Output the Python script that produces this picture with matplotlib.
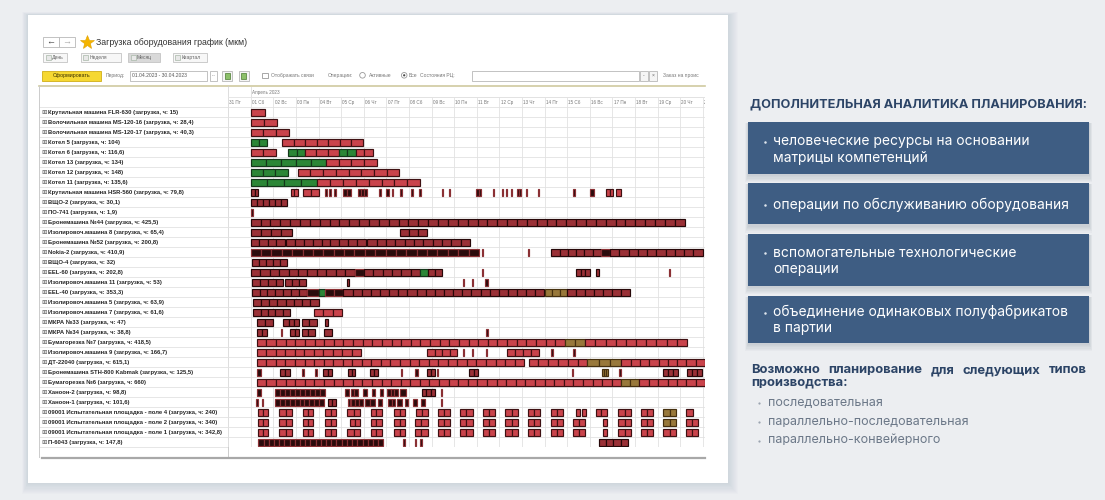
import matplotlib
matplotlib.use("Agg")
import matplotlib.pyplot as plt
from matplotlib.patches import Rectangle, Circle
import numpy as np

# ---- data -------------------------------------------------------------
machines = [
    "Крутильная машина FLR-630", "Волочильная машина MS-120-16", "Волочильная машина MS-120-17",
    "Котел 5", "Котел 6", "Котел 13", "Котел 12", "Котел 11",
    "Крутильная машина HSR-560", "ВЩО-2", "ПО-741", "Бронемашина №44",
    "Изолировоч.машина 8", "Бронемашина №52", "Nokia-2", "ВЩО-4", "EEL-60",
    "Изолировоч.машина 11", "EEL-40", "Изолировоч.машина 5", "Изолировоч.машина 7",
    "МКРА №33", "МКРА №34", "Бумагорезка №7", "Изолировоч.машина 9", "ДТ-22040",
    "Бронемашина STH-800 Kabmak", "Бумагорезка №6", "Ханоон-2", "Ханоон-1",
    "09001 Испытательная площадка - поле 4", "09001 Испытательная площадка - поле 2",
    "09001 Испытательная площадка - поле 1", "П-6043",
]
hours = ["15", "28,4", "40,3", "104", "116,6", "134", "148", "135,6", "79,8", "30,1",
         "1,9", "425,5", "65,4", "200,8", "410,9", "32", "202,8", "53", "353,3", "63,9",
         "61,6", "47", "38,8", "418,5", "166,7", "615,1", "125,5", "660", "98,8", "101,6",
         "240", "340", "342,8", "147,8"]

month_label = "Апрель 2023"
day_labels = ["31 Пт", "01 Сб", "02 Вс", "03 Пн", "04 Вт", "05 Ср", "06 Чт", "07 Пт",
              "08 Сб", "09 Вс", "10 Пн", "11 Вт", "12 Ср", "13 Чт", "14 Пт", "15 Сб",
              "16 Вс", "17 Пн", "18 Вт", "19 Ср", "20 Чт", "21 Пт"]

# operations per machine: (start day, end day, kind[, cells]) ; day 0 = 01.04
schedule = [
    [(0, 0.62, 'r')],
    [(0, 1.18, 'r', 2)],
    [(0, 1.68, 'r', 3)],
    [(0, 0.74, 'g', 2), (1.39, 4.97, 'r', 7)],
    [(0, 1.1, 'r', 2), (1.66, 2.4, 'g', 2), (2.4, 3.9, 'r', 3), (3.9, 4.64, 'g', 2), (4.64, 5.4, 'r', 2)],
    [(0, 3.33, 'g', 5), (3.33, 5.58, 'r', 4)],
    [(0, 1.64, 'g', 3), (2.08, 6.58, 'r', 8)],
    [(0, 2.95, 'g', 4), (2.95, 7.5, 'r', 8)],
    [(0, 0.34, 'm', 2), (1.78, 2.08, 'r', 2), (2.33, 3.0, 'r', 2), (3.29, 3.37, 'k'), (3.48, 3.56, 'k'),
     (3.68, 3.76, 'k'), (4.1, 4.42, 'k', 2), (4.73, 5.13, 'k', 3), (5.68, 5.76, 'k'), (6.0, 6.12, 'k'),
     (6.24, 6.3, 'k'), (6.62, 6.68, 'k'), (7.1, 7.2, 'k'), (7.46, 7.52, 'k'), (8.47, 8.53, 'k'),
     (8.77, 8.83, 'k'), (9.97, 10.2, 'k', 2), (10.7, 10.76, 'k'), (11.1, 11.16, 'k'), (11.3, 11.36, 'k'),
     (11.52, 11.58, 'k'), (11.77, 11.95, 'k', 2), (12.17, 12.23, 'k'), (12.7, 12.76, 'k'),
     (14.28, 14.34, 'k'), (15.0, 15.2, 'k'), (15.72, 16.05, 'r', 2), (16.17, 16.4, 'r')],
    [(0, 1.59, 'm', 6)],
    [(0, 0.08, 'k')],
    [(0, 19.2, 'm', 44)],
    [(0, 1.81, 'm', 4), (6.6, 7.8, 'm', 3)],
    [(0, 1.5, 'm', 4), (1.56, 5.1, 'm', 9), (5.16, 9.7, 'm', 11)],
    [(0, 10.1, 'k', 22), (10.24, 10.3, 'k'), (12.27, 12.33, 'k'), (13.3, 15.5, 'm', 6),
     (15.5, 15.9, 'k'), (15.9, 20.0, 'm', 10)],
    [(0.04, 1.6, 'm', 5)],
    [(0, 4.6, 'm', 11), (4.6, 5.0, 'k'), (5.0, 7.5, 'm', 6), (7.5, 7.86, 'g'), (7.86, 8.45, 'm', 2),
     (10.24, 10.3, 'k'), (14.4, 15.0, 'm', 3), (15.3, 15.4, 'm'), (18.5, 18.56, 'k')],
    [(0.04, 1.45, 'm', 4), (1.52, 2.45, 'm', 3), (4.25, 4.37, 'm'), (9.38, 9.44, 'k'),
     (9.78, 9.84, 'k'), (10.38, 10.5, 'k')],
    [(0.04, 2.5, 'm', 7), (2.5, 3.0, 'k'), (3.0, 3.3, 'g'), (3.3, 4.1, 'k', 2), (4.1, 13.0, 'm', 22),
     (13.0, 14.0, 'o', 3), (14.0, 16.8, 'm', 7)],
    [(0.09, 3.0, 'm', 8)],
    [(0.12, 1.74, 'm', 5), (2.8, 4.03, 'r', 3)],
    [(0.27, 1.0, 'm', 2), (1.45, 2.15, 'm', 3), (2.26, 2.92, 'm', 2), (3.29, 3.4, 'm')],
    [(0.27, 0.74, 'm', 2), (1.33, 1.39, 'k'), (1.74, 2.15, 'm', 2), (2.26, 2.85, 'm', 2),
     (3.24, 3.58, 'm'), (10.42, 10.5, 'k')],
    [(0.27, 13.9, 'r', 32), (13.9, 14.8, 'o', 2), (14.8, 19.3, 'r', 10)],
    [(0.27, 4.9, 'r', 11), (7.8, 9.15, 'r', 4), (9.38, 9.44, 'k'), (9.78, 9.84, 'k'), (10.4, 10.46, 'k'),
     (11.33, 12.74, 'r', 4), (13.3, 13.36, 'k'), (14.28, 14.34, 'k')],
    [(0.27, 12.1, 'r', 28), (12.3, 14.9, 'r', 6), (14.9, 16.4, 'o', 3), (16.4, 20.1, 'r', 9)],
    [(0.27, 0.44, 'k'), (1.3, 1.74, 'm', 2), (2.28, 2.34, 'k'), (2.86, 2.92, 'k'), (3.22, 3.58, 'm', 2),
     (4.32, 4.62, 'm', 2), (5.28, 5.65, 'm', 2), (6.64, 6.7, 'k'), (7.27, 7.42, 'k'), (7.79, 8.16, 'm', 2),
     (8.24, 8.3, 'k'), (9.68, 10.07, 'm', 2), (14.22, 14.28, 'k'), (15.53, 15.82, 'o', 3),
     (16.31, 16.38, 'k'), (18.26, 18.92, 'm', 3), (19.3, 19.96, 'm', 3)],
    [(0.27, 16.4, 'r', 38), (16.4, 17.2, 'o', 2), (17.2, 20.1, 'r', 7)],
    [(0.27, 0.44, 'k'), (1.08, 3.29, 'k', 10), (4.17, 4.37, 'k'), (4.42, 4.76, 'k', 2), (4.99, 5.16, 'k'),
     (5.35, 5.5, 'k'), (5.72, 5.87, 'k'), (6.02, 6.53, 'k', 3), (6.6, 6.87, 'k'), (7.57, 8.16, 'm', 3),
     (8.42, 8.48, 'k')],
    [(0.25, 0.31, 'k'), (0.5, 0.56, 'k'), (1.08, 3.24, 'k', 10), (3.44, 3.78, 'm', 2), (4.32, 4.4, 'k'),
     (4.42, 4.99, 'k', 3), (5.06, 5.5, 'k', 2), (5.65, 5.8, 'k'), (6.09, 6.39, 'k', 2), (6.46, 6.68, 'k'),
     (6.83, 6.98, 'k'), (7.2, 7.35, 'k'), (7.55, 7.7, 'k'), (8.42, 8.48, 'k')],
    [(0.31, 0.75, 'r', 2), (1.27, 1.81, 'r', 2), (2.3, 2.77, 'r', 2), (3.29, 3.78, 'r', 2),
     (4.28, 4.84, 'r', 2), (5.31, 5.8, 'r', 2), (6.36, 6.83, 'r', 2), (7.32, 7.83, 'r', 2),
     (8.27, 8.82, 'r', 2), (9.26, 9.82, 'r', 2), (10.27, 10.81, 'r', 2), (11.27, 11.81, 'r', 2),
     (12.27, 12.82, 'r', 2), (13.27, 13.8, 'r', 2), (14.38, 14.57, 'r'), (14.65, 14.82, 'r'),
     (15.28, 15.75, 'r', 2), (16.27, 16.81, 'r', 2), (17.26, 17.79, 'r', 2), (18.26, 18.82, 'o', 2),
     (19.26, 19.59, 'r')],
    [(0.31, 0.75, 'r', 2), (1.27, 1.81, 'r', 2), (2.3, 2.77, 'r', 2), (3.29, 3.78, 'r', 2),
     (4.4, 4.84, 'r', 2), (5.31, 5.8, 'r', 2), (6.36, 6.83, 'r', 2), (7.28, 7.83, 'r', 2),
     (8.27, 8.82, 'r', 2), (9.26, 9.82, 'r', 2), (10.27, 10.81, 'r', 2), (11.27, 11.81, 'r', 2),
     (12.27, 12.82, 'r', 2), (13.27, 13.8, 'r', 2), (14.28, 14.77, 'r', 2), (15.6, 15.78, 'r'),
     (16.27, 16.81, 'r', 2), (17.26, 17.79, 'r', 2), (18.26, 18.82, 'o', 2), (19.26, 19.8, 'r', 2)],
    [(0.31, 0.75, 'r', 2), (1.27, 1.81, 'r', 2), (2.3, 2.77, 'r', 2), (3.29, 3.78, 'r', 2),
     (4.28, 4.84, 'r', 2), (5.31, 5.8, 'r', 2), (6.36, 6.83, 'r', 2), (7.28, 7.83, 'r', 2),
     (8.27, 8.82, 'r', 2), (9.26, 9.82, 'r', 2), (10.27, 10.81, 'r', 2), (11.27, 11.81, 'r', 2),
     (12.27, 12.82, 'r', 2), (13.27, 13.8, 'r', 2), (14.28, 14.77, 'r', 2), (15.6, 15.78, 'r'),
     (16.27, 16.81, 'r', 2), (17.26, 17.79, 'r', 2), (18.26, 18.82, 'r', 2), (19.26, 19.8, 'r', 2)],
    [(0.34, 5.87, 'k', 24), (6.75, 6.81, 'k'), (7.27, 7.33, 'k'), (7.5, 7.56, 'k'), (15.4, 16.7, 'm', 4)],
]

panel_title = "ДОПОЛНИТЕЛЬНАЯ АНАЛИТИКА ПЛАНИРОВАНИЯ:"
panel_items = [
    ["человеческие ресурсы на основании", "матрицы компетенций"],
    ["операции по обслуживанию оборудования"],
    ["вспомогательные технологические", "операции"],
    ["объединение одинаковых полуфабрикатов", "в партии"],
]
types_title = ["Возможно планирование для следующих типов", "производства:"]
types = ["последовательная", "параллельно-последовательная", "параллельно-конвейерного"]

# ---- styles -----------------------------------------------------------
kinds = {
    'r': ('#c9434b', '#3e1012'),
    'g': ('#2b8636', '#14361a'),
    'm': ('#9a3036', '#260708'),
    'k': ('#2a0b0c', '#8a3034'),
    'o': ('#98783a', '#45300f'),
}
UI = ['Liberation Sans', 'DejaVu Sans']
PANEL = ['Inter', 'DejaVu Sans']
W, H = 1105, 500

fig = plt.figure(figsize=(W / 100, H / 100), dpi=100)
fig.patch.set_facecolor('#eceef1')
ax = fig.add_axes([0, 0, 1, 1])
ax.set_xlim(0, W)
ax.set_ylim(H, 0)
ax.axis('off')
renderer = fig.canvas.get_renderer()


def width_px(s, size, **kw):
    t = ax.text(0, 0, s, fontsize=size, **kw)
    w = t.get_window_extent(renderer=renderer).width
    t.remove()
    return w


def fit(s, target, **kw):
    return 10 * target / width_px(s, 10, **kw)


def box(x0, y0, x1, y1, fc='white', ec='#b8b8b8', lw=0.6, z=3):
    ax.add_patch(Rectangle((x0, y0), x1 - x0, y1 - y0, fc=fc, ec=ec, lw=lw, zorder=z))


def ui_text(x, y, s, size, color='#555555', **kw):
    ax.text(x, y, s, fontsize=size, color=color, va='center', ha='left', family=UI, zorder=5, **kw)


# ---- card with shadow --------------------------------------------------
for k in range(10, 0, -1):
    ax.add_patch(Rectangle((28 - k * 0.6, 15 - k * 0.3), 700 + k * 1.6, 468 + k * 1.4,
                           fc='#8090a0', ec='none', alpha=0.025, zorder=1))
ax.add_patch(Rectangle((28, 15), 700, 468, fc='white', ec='none', zorder=2))

# ---- toolbar ----------------------------------------------------------
sz_title = fit("Загрузка оборудования график (мкм)", 152, family=UI)
sz_ui = fit("Отображать связи", 43, family=UI)

box(43, 37, 58.5, 47)
box(58.5, 37, 75, 47)
ui_text(46.5, 42, "←", 6.5, color='#444444')
ui_text(62.5, 42, "→", 6.5, color='#aaaaaa')
ax.plot(87, 41.8, marker='*', ms=10, color='#f4b400', mec='#e0a000', mew=0.4, zorder=5)
ui_text(96.5, 42.3, "Загрузка оборудования график (мкм)", sz_title, color='#333333')

for x0, x1, label, pressed in [(43, 67, "День", False), (80.5, 120.5, "Неделя", False),
                               (128, 159.5, "Месяц", True), (172.5, 207, "Квартал", False)]:
    box(x0, 52.5, x1, 62, fc='#d9d9d9' if pressed else '#f7f7f7', ec='#c4c4c4')
    ax.add_patch(Rectangle((x0 + 2.5, 54.5), 5, 5.5, fc='#e8e8e8', ec='#a8b8a8', lw=0.5, zorder=4))
    ui_text(x0 + 9, 57.3, label, sz_ui, color='#666666')

box(41.5, 70.5, 101, 80.5, fc='#f6d832', ec='#cfae18')
ax.text(71.2, 75.5, "Сформировать", fontsize=sz_ui * 1.05, color='#3a3000', ha='center', va='center',
        family=UI, zorder=5)
ui_text(106, 75.5, "Период:", sz_ui, color='#777777')
box(130, 70.5, 206.5, 80.5)
ui_text(132, 75.5, "01.04.2023 - 30.04.2023", sz_ui, color='#555555')
box(209.5, 70.5, 217, 80.5)
ax.text(213.2, 75, "...", fontsize=sz_ui, color='#777777', ha='center', va='center', family=UI, zorder=5)
for x0 in (222, 238.5):
    box(x0, 70.5, x0 + 10, 80.5, fc='#f5f5f5')
    ax.add_patch(Rectangle((x0 + 2.5, 72.5), 5, 6, fc='#8cc06a', ec='#4a7a30', lw=0.5, zorder=4))
box(262, 72.5, 267.5, 78, ec='#999999')
ui_text(271, 75.5, "Отображать связи", sz_ui, color='#777777')
ui_text(327.5, 75.5, "Операции:", sz_ui, color='#777777')
ax.add_patch(Circle((362.5, 75.3), 2.8, fc='white', ec='#999999', lw=0.6, zorder=4))
ui_text(369, 75.5, "Активные", sz_ui, color='#777777')
ax.add_patch(Circle((404.2, 75.3), 2.8, fc='white', ec='#999999', lw=0.6, zorder=4))
ax.add_patch(Circle((404.2, 75.3), 1.1, fc='#444444', ec='none', zorder=5))
ui_text(409, 75.5, "Все", sz_ui, color='#777777')
ui_text(419.5, 75.5, "Состояния РЦ:", sz_ui, color='#777777')
box(471.5, 70.5, 638.5, 80.5)
box(640, 70.5, 647.5, 80.5, fc='#f5f5f5')
box(649, 70.5, 657, 80.5, fc='#f5f5f5')
ax.text(643.8, 75.5, "-", fontsize=sz_ui, color='#666666', ha='center', va='center', family=UI, zorder=5)
ax.text(653, 75.5, "×", fontsize=sz_ui, color='#666666', ha='center', va='center', family=UI, zorder=5)
ui_text(663, 75.5, "Заказ на проис", sz_ui, color='#777777')

# ---- table frame / label column ------------------------------------------
top, row_h, n_rows = 87, 10, len(machines)
body_top = top + 2 * row_h
ax.plot([39, 705], [85.8, 85.8], color='#cfcaa0', lw=1.2, zorder=4)
ax.plot([39, 39], [86, 457], color='#cccccc', lw=0.7, zorder=4)
ax.plot([228, 228], [86, 457], color='#cccccc', lw=0.7, zorder=4)
for i in range(n_rows + 1):
    y = body_top + i * row_h
    ax.plot([39, 228], [y, y], color='#e2e2e2', lw=0.6, zorder=3)
ax.plot([42, 705], [457.5, 457.5], color='#a8a8a8', lw=1.6, zorder=4)

sz_lab = fit("09001 Испытательная площадка - поле 1 (загрузка, ч: 342,8)", 174, family=UI,
             weight='bold')
for i, (name, h) in enumerate(zip(machines, hours)):
    y = body_top + i * row_h + 5.3
    ax.text(41.3, y, "⊞", fontsize=4.6, color='#555555', va='center', family=['DejaVu Sans'], zorder=5)
    ui_text(48, y, f"{name} (загрузка, ч: {h})", sz_lab, color='#262626', weight='bold')

# ---- gantt ------------------------------------------------------------
px_day = 22.6
x_lo = (228 - 250.7) / px_day
x_hi = (705 - 250.7) / px_day
bottom = top + (n_rows + 2) * row_h
gx = fig.add_axes([228 / W, (H - bottom) / H, (705 - 228) / W, (bottom - top) / H])
gx.set_xlim(x_lo, x_hi)
gx.set_ylim(n_rows - 0.5, -2.5)
gx.axis('off')

n_days = len(day_labels)
for d in range(n_days):
    x = d - 1
    gx.plot([x, x], [-1.5 if d > 1 else -2.5, n_rows - 0.5], color='#e2e2e2', lw=0.6, zorder=1)
    gx.text(x + 0.06, -1, day_labels[d], fontsize=sz_ui * 0.92, color='#777777', va='center',
            family=UI, clip_on=True)
gx.plot([0, 0], [-2.5, -1.5], color='#e2e2e2', lw=0.6)
gx.plot([0, x_hi], [-1.5, -1.5], color='#e2e2e2', lw=0.6)
gx.text(0.06, -2, month_label, fontsize=sz_ui * 0.92, color='#777777', va='center', family=UI)
for i in range(-1, n_rows + 1):
    gx.plot([x_lo, x_hi], [i - 0.5, i - 0.5], color='#e2e2e2', lw=0.6, zorder=1)

for row, ops in enumerate(schedule):
    for op in ops:
        s, e, kind = op[:3]
        cells = op[3] if len(op) > 3 else 1
        fc, ec = kinds[kind]
        edges = np.linspace(s, e, cells + 1)
        gx.barh([row] * cells, np.diff(edges), left=edges[:-1], height=0.7,
                color=fc, edgecolor=ec, linewidth=0.85, zorder=3)

# ---- right panel -----------------------------------------------------
navy = '#2c4466'
sz_head = fit(panel_title, 336, family=PANEL, weight='bold')
ax.text(750, 104.5, panel_title, fontsize=sz_head, color=navy, weight='bold', family=PANEL,
        va='center', ha='left')

sz_item = fit("операции по обслуживанию оборудования", 295, family=PANEL)
boxes = [(121.7, 174), (183.3, 224.3), (234.3, 286), (296, 342.7)]
line_y = [[141, 157.7], [204.5], [252.7, 269], [312.3, 328.3]]
for (y0, y1), lines, ys in zip(boxes, panel_items, line_y):
    for k in range(6, 0, -1):
        ax.add_patch(Rectangle((748 - k * 0.5, y0 + 1), 341 + k, y1 - y0 + k * 1.2,
                               fc='#3a4a60', ec='none', alpha=0.03, zorder=2))
    ax.add_patch(Rectangle((748, y0), 341, y1 - y0, fc='#3e5d83', ec='none', zorder=3))
    ax.plot(764.5, ys[0] + 0.5, marker='o', ms=1.8, color='#dfe6ee', mew=0, zorder=4)
    for s, y in zip(lines, ys):
        ax.text(773, y, s, fontsize=sz_item, color='white', family=PANEL, va='center', ha='left',
                zorder=4)

# justified two-line bold paragraph
sz_bold = sz_head * 1.02
words = types_title[0].split()
widths = [width_px(w, sz_bold, family=PANEL, weight='bold') for w in words]
gap = (1087 - 751.5 - sum(widths)) / (len(words) - 1)
x = 751.5
for w, wd in zip(words, widths):
    ax.text(x, 373, w, fontsize=sz_bold, color=navy, weight='bold', family=PANEL,
            va='baseline', ha='left')
    x += wd + gap
ax.text(751.5, 385.5, types_title[1], fontsize=sz_bold, color=navy, weight='bold', family=PANEL,
        va='baseline', ha='left')

sz_type = fit(types[1], 200.5, family=PANEL)
for s, y in zip(types, [402.7, 421.7, 440]):
    ax.plot(758.5, y + 0.5, marker='o', ms=1.6, color='#9aa4b0', mew=0)
    ax.text(767.7, y, s, fontsize=sz_type, color='#6c7888', family=PANEL, va='center', ha='left')

fig.savefig("out.png", dpi=100)
